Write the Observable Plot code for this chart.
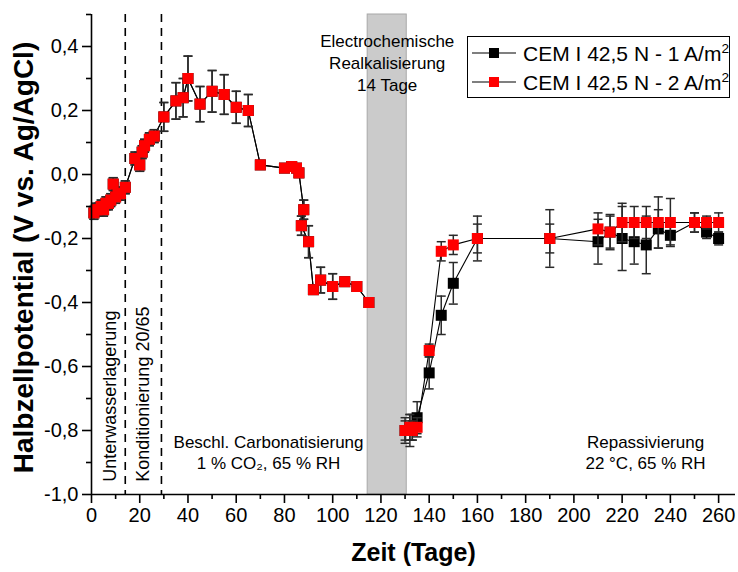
<!DOCTYPE html>
<html><head><meta charset="utf-8">
<script src="https://cdn.jsdelivr.net/npm/d3@7"></script>
<script src="https://cdn.jsdelivr.net/npm/@observablehq/plot@0.6"></script>
<style>
html,body{margin:0;padding:0;background:#fff;}
#wrap{position:relative;width:738px;height:572px;font-family:'Liberation Sans',Arial,sans-serif;}
#wrap svg{display:block;}
#legend{position:absolute;left:467px;top:36px;width:263px;height:62px;border:1px solid #000;background:#fff;box-sizing:border-box;padding-top:1px;}
.row{display:flex;align-items:center;height:29.5px;font-size:21px;white-space:nowrap;color:#000;}
.row svg{margin-right:5px;}
</style></head><body><div id="wrap"><div id="legend"></div></div>
<script>
// ---- data ----
const seriesLabels = ["CEM I 42,5 N - 1 A/m²", "CEM I 42,5 N - 2 A/m²"];
const seriesColors = ["#000000", "#ff0000"];

// carbonation phase (both series practically coincide)
const dayPre = [1,2,3,4,5,6,7,8,9,10,11,12,14,18,20,21,22,24,26,30,35,38,40,45,50,55,60,65,70,80,83,85,86,88,87,90,92,95,100,105,110,115];
const potPre = [-0.12,-0.11,-0.11,-0.10,-0.11,-0.09,-0.09,-0.08,-0.03,-0.07,-0.06,-0.06,-0.04,0.05,0.03,0.07,0.09,0.11,0.12,0.18,0.23,0.24,0.30,0.22,0.26,0.25,0.21,0.20,0.03,0.02,0.025,0.02,0.005,-0.11,-0.16,-0.21,-0.36,-0.33,-0.35,-0.335,-0.35,-0.40];
const errPre = [0.02,0.02,0.02,0.02,0.02,0.02,0.02,0.02,0.02,0.02,0.02,0.02,0.02,0.02,0.02,0.02,0.02,0.02,0.02,0.045,0.057,0.06,0.07,0.055,0.065,0.062,0.05,0.05,0.01,0.01,0.01,0.01,0.01,0.03,0.03,0.05,0.01,0.04,0.04,0.01,0.01,0.01];

// after realkalisation
const dayPost = [130,132,133,135,140,145,150,160,190,210,215,220,225,230,235,240,250,255,260];
const potPost1 = [-0.80,-0.80,-0.79,-0.76,-0.62,-0.44,-0.34,-0.20,-0.20,-0.21,-0.18,-0.20,-0.21,-0.22,-0.17,-0.19,-0.15,-0.18,-0.20];
const errPost1 = [0.04,0.05,0.04,0.05,0.05,0.06,0.065,0.07,0.09,0.07,0.05,0.10,0.07,0.09,0.06,0.03,0.03,0.02,0.02];
const potPost2 = [-0.80,-0.79,-0.80,-0.79,-0.55,-0.24,-0.22,-0.20,-0.20,-0.17,-0.18,-0.15,-0.15,-0.15,-0.15,-0.15,-0.15,-0.15,-0.15];
const errPost2 = [0.03,0.04,0.03,0.03,0.02,0.03,0.03,0.045,0.045,0.05,0.055,0.06,0.05,0.05,0.08,0.075,0.03,0.02,0.03];

// phases
const phaseLines = [14, 29];
const realkBand = [[114.5, 130.7]];
const phaseLabels = ["Unterwasserlagerung", "Konditionierung 20/65"];
const phaseLabelDays = [7.9, 21.6];
const annoTexts = ["Beschl. Carbonatisierung\n1 % CO₂, 65 % RH", "Electrochemische\nRealkalisierung\n14 Tage", "Repassivierung\n22 °C, 65 % RH"];
const annoDays = [73.4, 122.6, 229.7];
const annoPots = [-0.866, 0.352, -0.866];

const xMajor = d3.range(0, 261, 20);
const xMinor = d3.range(10, 261, 20);
const yMajor = [-1.0,-0.8,-0.6,-0.4,-0.2,0.0,0.2,0.4];
const yMinor = [-0.9,-0.7,-0.5,-0.3,-0.1,0.1,0.3,0.5];

// ---- build ----
const rows = (days, pot, err, seg) => days.map((d, i) => ({day: d, v: pot[i], e: err[i], seg}));
const s1 = [...rows(dayPre, potPre, errPre, "pre"), ...rows(dayPost, potPost1, errPost1, "post")];
const s2 = [...rows(dayPre, potPre, errPre, "pre"), ...rows(dayPost, potPost2, errPost2, "post")];

const sq = {draw(ctx){ ctx.rect(-5.5, -5.5, 11, 11); }};
const cap = {draw(ctx){ ctx.moveTo(-4.5, 0); ctx.lineTo(4.5, 0); }};

const fmtY = d => (d < -1e-9 ? "-" : "") + Math.abs(d).toFixed(1).replace(".", ",");

function seriesMarks(data, color) {
  return [
    Plot.line(data, {x: "day", y: "v", z: "seg", stroke: "#000", strokeWidth: 1.1}),
    Plot.ruleX(data, {x: "day", y1: d => d.v - d.e, y2: d => d.v + d.e, stroke: "#2a2a2a", strokeWidth: 1.5}),
    Plot.dot(data, {x: "day", y: d => d.v + d.e, symbol: cap, stroke: "#2a2a2a", strokeWidth: 1.5, fill: "none"}),
    Plot.dot(data, {x: "day", y: d => d.v - d.e, symbol: cap, stroke: "#2a2a2a", strokeWidth: 1.5, fill: "none"}),
    Plot.dot(data, {x: "day", y: "v", symbol: sq, fill: color, stroke: "none"})
  ];
}

const annos = annoTexts.map((t, i) => ({t, day: annoDays[i], v: annoPots[i]}));
const plabs = phaseLabels.map((t, i) => ({t, day: phaseLabelDays[i]}));

const chart = Plot.plot({
  width: 738, height: 572,
  marginLeft: 91, marginRight: 3, marginTop: 14, marginBottom: 78,
  style: {background: "white", fontFamily: "'Liberation Sans', Arial, sans-serif", fontSize: "20px", color: "black", overflow: "visible"},
  x: {domain: [0, 267]},
  y: {domain: [-1.0, 0.5]},
  marks: [
    Plot.rect(realkBand, {x1: d => d[0], x2: d => d[1], fill: "#cbcbcb", stroke: "#a8a8a8", strokeWidth: 1}),
    Plot.ruleX(phaseLines, {stroke: "#000", strokeWidth: 1.6, strokeDasharray: "8,6"}),
    ...seriesMarks(s1, seriesColors[0]),
    ...seriesMarks(s2, seriesColors[1]),
    Plot.ruleX([0], {stroke: "#000", strokeWidth: 1.6}),
    Plot.ruleY([-1.0], {stroke: "#000", strokeWidth: 1.6}),
    Plot.axisX(xMajor, {tickSize: 9, tickPadding: 4, tickFormat: d => String(d), strokeWidth: 1.6, fontSize: 20, label: null}),
    Plot.axisX(xMinor, {tickSize: 5, tickFormat: () => "", strokeWidth: 1.6, label: null}),
    Plot.axisY(yMajor, {tickSize: 9, tickPadding: 4, tickFormat: fmtY, strokeWidth: 1.6, fontSize: 20, label: null}),
    Plot.axisY(yMinor, {tickSize: 5, tickFormat: () => "", strokeWidth: 1.6, label: null}),
    Plot.text(plabs, {x: "day", y: () => -0.96, text: "t", rotate: -90, textAnchor: "start", lineAnchor: "middle", fontSize: 18, fill: "#000"}),
    Plot.text(annos, {x: "day", y: "v", text: "t", textAnchor: "middle", lineAnchor: "middle", lineHeight: 1.28, fontSize: 17, fill: "#000"}),
    Plot.text(["Halbzellpotential (V vs. Ag/AgCl)"], {text: d => d, frameAnchor: "left", dx: -67, dy: 3, rotate: -90, textAnchor: "middle", lineAnchor: "middle", fontSize: 28, fontWeight: "bold", fill: "#000"}),
    Plot.text(["Zeit (Tage)"], {text: d => d, frameAnchor: "bottom", dy: 58, textAnchor: "middle", lineAnchor: "middle", fontSize: 25, fontWeight: "bold", fill: "#000"})
  ]
});
document.getElementById("wrap").prepend(chart);

// legend
const legend = document.getElementById("legend");
seriesLabels.forEach((lab, i) => {
  const row = document.createElement("div");
  row.className = "row";
  row.innerHTML = `<svg width="50" height="20"><line x1="4" x2="48" y1="10" y2="10" stroke="#000" stroke-width="1.1"/><rect x="21" y="5" width="10" height="10" fill="${seriesColors[i]}"/></svg><span>${lab.replace("²", "<sup style=\"font-size:0.65em;vertical-align:0.55em\">2</sup>")}</span>`;
  legend.appendChild(row);
});
</script></body></html>
